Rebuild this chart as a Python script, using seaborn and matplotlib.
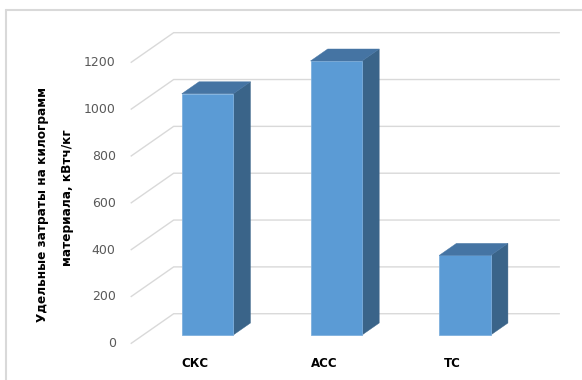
import matplotlib
matplotlib.use("Agg")
import matplotlib.pyplot as plt
import matplotlib.transforms as mtransforms
from matplotlib.lines import Line2D
from matplotlib.patches import Polygon
import seaborn as sns
import pandas as pd

# Data
categories = ["СКС", "АСС", "ТС"]
values = [1030, 1170, 340]
y_ticks = [0, 200, 400, 600, 800, 1000, 1200]
y_label_lines = ["Удельные затраты на килограмм", "материала, кВтч/кг"]

sns.set_theme(style="white")
plt.rcParams["font.family"] = ["DejaVu Sans"]

FRONT = "#5b9bd5"
TOP = "#4574a3"
SIDE = "#3a6489"
GRID = "#d9d9d9"

fig = plt.figure(figsize=(5.82, 3.80), dpi=100)
ax = fig.add_axes([0, 0, 1, 1])

df = pd.DataFrame({"cat": categories, "val": values})
sns.barplot(data=df, x="cat", y="val", color=FRONT, saturation=1,
            width=0.4, ax=ax, zorder=3, edgecolor="#7eb0de", linewidth=0.6)

# oblique depth vector (category units, value units)
DX, DY = 0.334, 128.0
F_FRONT, F_BACK, F_BAR = -0.29, 0.71, 0.40
x_left, x_right = -0.5, 2.5

# perspective gridlines: slanted floor-to-wall segment plus back-wall line
for v in y_ticks:
    xs = [x_left + F_FRONT * DX, x_left + F_BACK * DX, x_right + F_BACK * DX]
    ys = [v + F_FRONT * DY, v + F_BACK * DY, v + F_BACK * DY]
    ax.plot(xs, ys, color=GRID, lw=1.0, zorder=1, solid_capstyle="butt")

# tick labels at the front edge
lab_tr = mtransforms.offset_copy(ax.transData, fig=fig, x=-15, y=0, units="dots")
for v in y_ticks:
    ax.text(x_left + F_FRONT * DX, v + F_FRONT * DY, str(v), transform=lab_tr,
            ha="right", va="center", fontsize=9, color="#595959")

# side and top faces of the bars
for p in ax.patches[:len(values)]:
    x0 = p.get_x()
    x1 = x0 + p.get_width()
    h = p.get_height()
    ox, oy = F_BAR * DX, F_BAR * DY
    side = Polygon([(x1, 0), (x1 + ox, oy), (x1 + ox, h + oy), (x1, h)],
                   closed=True, facecolor=SIDE, edgecolor=SIDE, lw=0.3, zorder=2.9)
    top = Polygon([(x0, h), (x1, h), (x1 + ox, h + oy), (x0 + ox, h + oy)],
                  closed=True, facecolor=TOP, edgecolor=TOP, lw=0.3, zorder=3.1)
    ax.add_patch(side)
    ax.add_patch(top)

# category labels under the floor front edge
cat_tr = mtransforms.offset_copy(ax.transData, fig=fig, x=0, y=-20, units="dots")
for i, c in enumerate(categories):
    ax.text(i + F_FRONT * DX, F_FRONT * DY, c, transform=cat_tr,
            ha="center", va="center", fontsize=8.5, fontweight="bold", color="black")

ax.set_xlim(-1.612, 2.909)
ax.set_ylim(-192.1, 1430.4)
ax.axis("off")

# axis title in two lines
fig.text(43 / 582, 1 - 204 / 380, y_label_lines[0], rotation=90, ha="center",
         va="center", fontsize=8.7, fontweight="bold", color="black")
fig.text(67 / 582, 1 - 198 / 380, y_label_lines[1], rotation=90, ha="center",
         va="center", fontsize=8.7, fontweight="bold", color="black")

# chart area border
fig.add_artist(Line2D([6 / 582, 1], [1 - 10 / 380, 1 - 10 / 380],
                      transform=fig.transFigure, color=GRID, lw=1.5))
fig.add_artist(Line2D([6 / 582, 6 / 582], [0, 1 - 10 / 380],
                      transform=fig.transFigure, color=GRID, lw=1.5))

fig.savefig("out.png", dpi=100, facecolor="white")
